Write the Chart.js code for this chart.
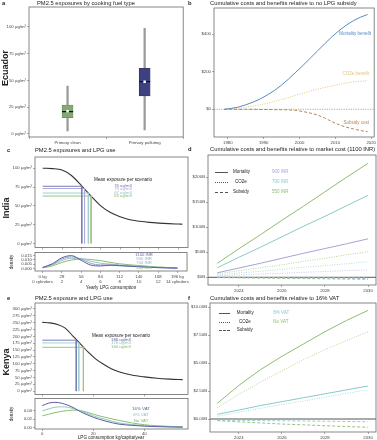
<!DOCTYPE html>
<html>
<head>
<meta charset="utf-8">
<script src="https://cdn.jsdelivr.net/npm/chart.js@4.4.1/dist/chart.umd.min.js"></script>
<style>
    html, body { margin: 0; padding: 0; background: #fff; }
    #fig { position: relative; width: 377px; height: 440px; overflow: hidden; font-family: "Liberation Sans", Arial, sans-serif; color: #222; }
    #fig canvas { position: absolute; }
    .t { position: absolute; white-space: nowrap; line-height: 1; }
    .key { position: absolute; height: 0; border-top-width: 1px; border-top-color: #555; }
</style>
</head>
<body>
<div id="fig"></div>
<script>
/* ── data ── */

// a: Ecuador, exposure by fuel type
const fuelTypes = ['Primary clean', 'Primary polluting'];
const boxWhisker = [[2.8, 44.7], [3.7, 98.5]];
const boxIQR = [[15.2, 27], [35.4, 61.3]];
const boxMedian = [20.8, 48.8];
const boxMean = [21.2, 48.8];

// b: cumulative costs/benefits vs no LPG subsidy
const yearsB = [1979, 1981, 1983, 1985, 1987, 1989, 1991, 1993, 1995, 1997, 1999, 2001, 2003, 2005, 2007, 2009, 2011, 2013, 2015, 2017, 2019];
const mortalityB = [0, 5, 12, 24, 38, 55, 76, 100, 129, 162, 198, 234, 272, 310, 348, 385, 418, 447, 471, 490, 504];
const co2eB = [0, 2, 6, 11, 17, 24, 32, 42, 52, 63, 75, 86, 97, 107, 116, 124, 132, 139, 145, 149, 152];
const subsidyB = [0, 0, 0, 0, 0, -1, -1, -2, -2, -3, -6, -12, -20, -30, -46, -65, -82, -95, -104, -113, -119];

// c: India exposure curve + LPG use density
const kgC = [0, 14, 28, 42, 56, 70, 84, 98, 112, 126, 140, 154, 168, 182, 196, 202];
const exposureC = [100, 99.5, 97.5, 90, 77, 63, 50, 41, 35.5, 31.5, 29.5, 28, 27, 26.3, 25.8, 25.6];
const scenariosC = ['1100 INR', '900 INR', '700 INR', '550 INR'];
const meanExpC = [76, 73, 67, 63];
const meanKgC = [56.5, 60.5, 66, 70];
const densKgC = [0, 14, 28, 42, 56, 70, 84, 98, 112, 126, 140, 154, 168, 182, 196];
const dens1100 = [0.0012, 0.0055, 0.0125, 0.0150, 0.0095, 0.0040, 0.0030, 0.0038, 0.0032, 0.0026, 0.0021, 0.0015, 0.0010, 0.0007, 0.0004];
const dens900 = [0.0012, 0.0048, 0.0110, 0.0135, 0.0110, 0.0060, 0.0042, 0.0042, 0.0036, 0.0029, 0.0023, 0.0017, 0.0011, 0.0008, 0.0005];
const dens700 = [0.0010, 0.0040, 0.0092, 0.0118, 0.0115, 0.0085, 0.0062, 0.0052, 0.0042, 0.0034, 0.0027, 0.0020, 0.0014, 0.0009, 0.0006];
const dens550 = [0.0008, 0.0030, 0.0070, 0.0098, 0.0110, 0.0105, 0.0092, 0.0072, 0.0055, 0.0044, 0.0035, 0.0026, 0.0018, 0.0012, 0.0008];
const kgTicksC = [0, 28, 56, 84, 112, 140, 168, 196];
const kgTickLabelsC = [['0 kg', '0 cylinders'], ['28', '2'], ['56', '4'], ['84', '6'], ['112', '8'], ['140', '10'], ['168', '12'], ['196 kg', '14 cylinders']];

// d: India cumulative costs/benefits vs market cost
const yearsD = [2023, 2024, 2025, 2026, 2027, 2028, 2029, 2030];
const scenariosD = ['900 INR', '700 INR', '550 INR'];
const mort900 = [9, 18.5, 28, 38, 48, 57.5, 67, 77];
const mort700 = [19, 40, 60, 81, 102, 122, 143, 164];
const mort550 = [28, 57, 85, 114, 142, 171, 200, 228];
const co2900 = [3, 4.5, 6.5, 8, 10, 11.5, 13.5, 15];
const co2700 = [5, 8.5, 12, 16, 20, 23.5, 27, 31];
const co2550 = [7, 13, 19, 25, 32, 38, 45, 51];
const subs900 = [0, -0.2, -0.3, -0.4, -0.6, -0.7, -0.8, -1];
const subs700 = [-0.3, -0.6, -0.9, -1.2, -1.5, -1.8, -2.1, -2.5];
const subs550 = [-0.5, -1, -1.5, -2, -2.5, -3, -3.5, -4];

// e: Kenya exposure curve + LPG use density
const kgE = [0, 3, 6, 9, 12, 15, 18, 21, 24, 27, 30, 35, 40, 45, 50, 55];
const exposureE = [251, 249, 243, 230, 201, 172, 142, 117, 98, 82, 71, 59, 52, 47, 44, 42];
const scenariosE = ['16% VAT', '8% VAT', 'No VAT'];
const meanExpE = [186, 176, 160];
const meanKgE = [13.3, 14.3, 16.1];
const densKgE = [0, 2.5, 5, 7.5, 10, 12.5, 15, 17.5, 20, 25, 30, 35, 40, 45, 50, 55];
const dens16 = [0.053, 0.059, 0.061, 0.059, 0.054, 0.047, 0.038, 0.031, 0.0245, 0.015, 0.008, 0.005, 0.003, 0.0018, 0.001, 0.0005];
const dens8 = [0.040, 0.045, 0.049, 0.050, 0.049, 0.045, 0.040, 0.034, 0.028, 0.019, 0.011, 0.007, 0.0045, 0.003, 0.0018, 0.001];
const densNo = [0.028, 0.032, 0.036, 0.039, 0.041, 0.042, 0.041, 0.037, 0.032, 0.024, 0.017, 0.011, 0.0065, 0.004, 0.0025, 0.0015];

// f: Kenya cumulative costs/benefits vs 16% VAT
const yearsF = [2023, 2024, 2025, 2026, 2027, 2028, 2029, 2030];
const scenariosF = ['8% VAT', 'No VAT'];
const mort8 = [0.42, 0.8, 1.2, 1.55, 1.9, 2.25, 2.6, 2.95];
const co28 = [0.25, 0.6, 0.95, 1.3, 1.6, 1.95, 2.3, 2.6];
const mortNo = [1.4, 3.0, 4.4, 5.6, 6.7, 7.8, 8.8, 9.7];
const co2No = [1.0, 2.2, 3.3, 4.3, 5.3, 6.2, 7.0, 7.8];
const subs8 = [-0.1, -0.12, -0.14, -0.16, -0.18, -0.2, -0.22, -0.24];
const subsNo = [-0.15, -0.25, -0.35, -0.45, -0.52, -0.6, -0.67, -0.74];

/* ── helpers ── */

const fig = document.getElementById('fig');
const FONT = '"Liberation Sans", Arial, sans-serif';
Chart.defaults.font.family = FONT;
Chart.defaults.color = '#444';

const COL = {
    purple: '#5c5ca0', lavender: '#a6a3d6', teal: '#8cc8ca', green: '#8dbd6e',
    greenDot: '#b9d49a', tealDot: '#b2dcdd', lavDot: '#c9c6e8',
    blue: '#5a8bbf', gold: '#e3c47c', brown: '#b3845a',
};
const DOT = [1, 1.4];
const DASH = [3, 2];

const pts = (xs, ys) => xs.map((x, i) => ({ x, y: ys[i] }));
const ug = v => v + ' µg/m³';

// grey frame round every plot area
const framePlugin = {
    id: 'frame',
    afterDatasetsDraw(chart) {
        const { ctx, chartArea: a } = chart;
        ctx.save();
        ctx.strokeStyle = '#6a6a6a';
        ctx.lineWidth = 0.8;
        ctx.strokeRect(a.left, a.top, a.right - a.left, a.bottom - a.top);
        ctx.restore();
    },
};

// horizontal reference line at y = 0
const zeroPlugin = {
    id: 'zero',
    beforeDatasetsDraw(chart, args, opts) {
        if (!opts || !opts.color) return;
        const { ctx, chartArea: a, scales } = chart;
        const y = scales.y.getPixelForValue(0);
        ctx.save();
        ctx.strokeStyle = opts.color;
        ctx.lineWidth = opts.width || 1;
        ctx.setLineDash(opts.dash || []);
        ctx.beginPath();
        ctx.moveTo(a.left, y);
        ctx.lineTo(a.right, y);
        ctx.stroke();
        ctx.restore();
    },
};

function axis(min, max, ticks, fmt, size, pad) {
    return {
        type: 'linear', min, max, bounds: 'data',
        afterBuildTicks: s => { s.ticks = ticks.map(v => ({ value: v })); },
        afterFit: s => { if (s.isHorizontal()) s.height = size; else s.width = size; },
        ticks: { callback: fmt, font: { size: 4.3 }, color: '#444', padding: pad === undefined ? 1 : pad, autoSkip: false, maxRotation: 0 },
        grid: { drawOnChartArea: false, tickLength: 2, color: '#777', lineWidth: 0.6 },
        border: { display: false },
    };
}

function line(data, color, width, dash) {
    return {
        type: 'line', data, borderColor: color, borderWidth: width || 1,
        borderDash: dash || [], pointRadius: 0, tension: 0, fill: false,
    };
}

function makeChart(box, pad, config) {
    const c = document.createElement('canvas');
    c.width = box[2]; c.height = box[3];
    c.style.left = box[0] + 'px'; c.style.top = box[1] + 'px';
    c.style.width = box[2] + 'px'; c.style.height = box[3] + 'px';
    fig.appendChild(c);
    config.options = Object.assign({
        responsive: false, animation: false, events: [], devicePixelRatio: 1,
        layout: { padding: { top: pad[0], right: pad[1], bottom: 0, left: 0 } },
    }, config.options);
    config.options.plugins = Object.assign({ legend: { display: false }, tooltip: { enabled: false } }, config.options.plugins);
    config.plugins = [framePlugin, zeroPlugin];
    return new Chart(c, config);
}

function txt(s, x, y, o) {
    o = o || {};
    const d = document.createElement('div');
    d.className = 't';
    d.textContent = s;
    d.style.left = x + 'px';
    d.style.top = y + 'px';
    d.style.fontSize = (o.size || 4.5) + 'px';
    if (o.bold) d.style.fontWeight = 'bold';
    if (o.color) d.style.color = o.color;
    const tx = o.align === 'center' ? '-50%' : o.align === 'right' ? '-100%' : '0';
    d.style.transform = `translate(${tx},-50%)` + (o.rot ? ' rotate(-90deg)' : '');
    fig.appendChild(d);
}

function key(x, y, w, style) {
    const d = document.createElement('div');
    d.className = 'key';
    d.style.left = x + 'px';
    d.style.top = y + 'px';
    d.style.width = w + 'px';
    d.style.borderTopStyle = style;
    fig.appendChild(d);
}

/* ── a: box plot ── */
makeChart([0, 0, 190, 147], [7, 3], {
    type: 'bar',
    data: {
        labels: fuelTypes,
        datasets: [
            { type: 'line', data: boxMean, showLine: false, pointStyle: 'rect', pointRadius: 1.8, backgroundColor: '#fff', borderColor: '#fff', borderWidth: 0, order: 1 },
            { type: 'line', data: boxMedian, showLine: false, pointStyle: 'line', pointRadius: 5.5, borderColor: '#111', borderWidth: 1.3, order: 2 },
            { data: boxIQR, grouped: false, barThickness: 11, backgroundColor: ['#86a872', '#3e4180'], borderColor: ['#5f7d50', '#2b2d5e'], borderWidth: 0.6, borderSkipped: false, order: 3 },
            { data: boxWhisker, grouped: false, barThickness: 1.6, backgroundColor: '#9a9a9a', order: 4 },
        ],
    },
    options: {
        scales: {
            x: {
                afterFit: s => { s.height = 10; },
                ticks: { font: { size: 4.3 }, color: '#444', padding: 1, maxRotation: 0 },
                grid: { drawOnChartArea: false, tickLength: 2, color: '#777', lineWidth: 0.6 },
                border: { display: false },
            },
            y: axis(-2.8, 118.4, [0, 25, 50, 75, 100], ug, 29),
        },
    },
});

/* ── b: cumulative, Ecuador ── */
makeChart([188, 0, 189, 147], [8, 1], {
    type: 'line',
    data: {
        datasets: [
            line(pts(yearsB, mortalityB), COL.blue, 1),
            line(pts(yearsB, co2eB), COL.gold, 1, DOT),
            line(pts(yearsB, subsidyB), COL.brown, 1, DASH),
        ],
    },
    options: {
        plugins: { zero: { color: '#8a8a8a', width: 0.7, dash: [1.2, 1.2] } },
        scales: {
            x: axis(1976.14, 2020.83, [1980, 1990, 2000, 2010, 2020], v => String(v), 10),
            y: axis(-147.3, 538.8, [0, 200, 400], v => '$' + v, 26),
        },
    },
});

/* ── c: exposure curve, India ── */
const meanColsC = ['#7c7ab8', '#aeaadb', '#9fd0d0', '#9ac57e'];
makeChart([0, 150, 190, 101], [7, 2], {
    type: 'line',
    data: {
        datasets: meanExpC.map((v, i) => line([{ x: 0, y: v }, { x: meanKgC[i], y: v }, { x: meanKgC[i], y: 0 }], meanColsC[i], 1))
            .concat([Object.assign(line(pts(kgC, exposureC), '#333', 1.1), { cubicInterpolationMode: 'monotone' })]),
    },
    options: {
        scales: {
            x: axis(-11.1, 210, kgTicksC, () => '', 3),
            y: axis(-5.3, 114.9, [0, 25, 50, 75, 100], ug, 35),
        },
    },
});

const densColsC = [COL.purple, '#9c99d2', '#8fc7c8', '#8cbd6e'];
makeChart([0, 249, 190, 36], [2, 2], {
    type: 'line',
    data: {
        datasets: [dens1100, dens900, dens700, dens550].map((d, i) =>
            Object.assign(line(pts(densKgC, d), densColsC[i], 1), { cubicInterpolationMode: 'monotone' })),
    },
    options: {
        scales: {
            x: axis(-11.1, 210, kgTicksC, (v, i) => kgTickLabelsC[i], 14),
            y: axis(-0.0029, 0.01854, [0, 0.005, 0.01, 0.015], v => v.toFixed(3), 35),
        },
    },
});

/* ── d: cumulative, India ── */
const colsD = [COL.lavender, COL.teal, COL.green];
const dotsD = [COL.lavDot, COL.tealDot, COL.greenDot];
makeChart([185, 150, 192, 143], [5, 1], {
    type: 'line',
    data: {
        datasets: [
            line(pts(yearsD, subs900), colsD[0], 0.9, DASH),
            line(pts(yearsD, subs700), colsD[1], 0.9, DASH),
            line(pts(yearsD, subs550), colsD[2], 0.9, DASH),
            line(pts(yearsD, co2900), dotsD[0], 1, DOT),
            line(pts(yearsD, co2700), dotsD[1], 1, DOT),
            line(pts(yearsD, co2550), dotsD[2], 1, DOT),
            line(pts(yearsD, mort900), colsD[0], 1),
            line(pts(yearsD, mort700), colsD[1], 1),
            line(pts(yearsD, mort550), colsD[2], 1),
        ],
    },
    options: {
        plugins: { zero: { color: '#555', width: 1 } },
        scales: {
            x: axis(2022.57, 2030.37, [2024, 2026, 2028, 2030], v => String(v), 8),
            y: axis(-15.4, 244.6, [0, 50, 100, 150, 200], v => '$' + v + 'B', 23),
        },
    },
});

/* ── e: exposure curve, Kenya ── */
const meanColsE = ['#7c7ab8', '#9fd0d0', '#9ac57e'];
makeChart([0, 297, 190, 101], [6, 2], {
    type: 'line',
    data: {
        datasets: meanExpE.map((v, i) => line([{ x: 0, y: v }, { x: meanKgE[i], y: v }, { x: meanKgE[i], y: 0 }], meanColsE[i], 1))
            .concat([Object.assign(line(pts(kgE, exposureE), '#333', 1.1), { cubicInterpolationMode: 'monotone' })]),
    },
    options: {
        scales: {
            x: axis(-2.86, 57.1, [0, 20, 40], () => '', 3),
            y: axis(-12, 321.7, [0, 25, 50, 75, 100, 125, 150, 175, 200, 225, 250, 275, 300], ug, 35),
        },
    },
});

const densColsE = [COL.purple, '#8fc7c8', '#8cbd6e'];
makeChart([0, 395, 190, 44], [2, 2], {
    type: 'line',
    data: {
        datasets: [dens16, dens8, densNo].map((d, i) =>
            Object.assign(line(pts(densKgE, d), densColsE[i], 1), { cubicInterpolationMode: 'monotone' })),
    },
    options: {
        scales: {
            x: axis(-2.86, 57.1, [0, 20, 40], v => String(v), 10, 0),
            y: axis(-0.0039, 0.0701, [0, 0.02, 0.04], v => v.toFixed(2), 35),
        },
    },
});

/* ── f: cumulative, Kenya ── */
makeChart([185, 297, 192, 143], [6, 1], {
    type: 'line',
    data: {
        datasets: [
            line(pts(yearsF, subs8), COL.teal, 0.9, DASH),
            line(pts(yearsF, subsNo), COL.green, 0.9, DASH),
            line(pts(yearsF, co28), COL.tealDot, 1, DOT),
            line(pts(yearsF, co2No), COL.greenDot, 1, DOT),
            line(pts(yearsF, mort8), COL.teal, 1),
            line(pts(yearsF, mortNo), COL.green, 1),
        ],
    },
    options: {
        plugins: { zero: { color: '#555', width: 1 } },
        scales: {
            x: axis(2022.66, 2030.37, [2024, 2026, 2028, 2030], v => String(v), 8),
            y: axis(-1.16, 10.36, [0, 2.5, 5, 7.5, 10], v => '$' + v.toFixed(2) + 'B', 25),
        },
    },
});

/* ── texts ── */
const T = 5.8;
txt('a', 2, 3.5, { size: T, bold: true });
txt('PM2.5 exposures by cooking fuel type', 37, 3.5, { size: T });
txt('b', 188, 3.5, { size: T, bold: true });
txt('Cumulative costs and benefits relative to no LPG subsidy', 210, 3.5, { size: T });
txt('c', 7, 151, { size: T, bold: true });
txt('PM2.5 exposures and LPG use', 35, 151, { size: T });
txt('d', 188, 150, { size: T, bold: true });
txt('Cumulative costs and benefits relative to market cost (1100 INR)', 210, 150, { size: T });
txt('e', 7, 299, { size: T, bold: true });
txt('PM2.5 exposure and LPG use', 35, 299, { size: T });
txt('f', 188, 299, { size: T, bold: true });
txt('Cumulative costs and benefits relative to 16% VAT', 210, 299, { size: T });

txt('Ecuador', 5, 68, { size: 9, bold: true, align: 'center', rot: true });
txt('India', 6, 208, { size: 9, bold: true, align: 'center', rot: true });
txt('Kenya', 6, 362, { size: 9, bold: true, align: 'center', rot: true });
txt('density', 12, 262, { size: 4.5, align: 'center', rot: true });
txt('density', 12, 414, { size: 4.5, align: 'center', rot: true });
txt('Yearly LPG consumption', 111, 288, { size: 4.6, align: 'center' });
txt('LPG consumption kg/capita/year', 111, 437.8, { size: 4.6, align: 'center' });

// b labels
txt('Mortality benefit', 371, 34, { color: COL.blue, align: 'right' });
txt('CO2e benefit', 369, 74, { color: COL.gold, align: 'right' });
txt('Subsidy cost', 369, 123, { color: COL.brown, align: 'right' });

// c labels
const labelColsC = ['#6a6aaa', '#a6a3d6', '#86c4c6', '#86b866'];
txt('Mean exposure per scenario', 123, 179.5, { size: 4.6, align: 'center' });
meanExpC.forEach((v, i) => txt(v + ' ug/m3', 123, 185.7 + i * 3.55, { size: 4.2, color: labelColsC[i], align: 'center' }));
scenariosC.forEach((s, i) => txt(s, 144, 255 + i * 4.2, { size: 4.2, color: labelColsC[i], align: 'center' }));

// d legend
['solid', 'dotted', 'dashed'].forEach((st, i) => key(215, 172.3 + i * 9.9, 13, st));
txt('Mortality', 233, 172.3);
txt('CO2e', 235, 182.2);
txt('Subsidy', 233, 192);
scenariosD.forEach((s, i) => txt(s, 272, 172.3 + i * 9.9, { color: colsD[i] }));

// e labels
const labelColsE = ['#5a5a9a', '#86c4c6', '#86b866'];
txt('Mean exposure per scenario', 121, 336, { size: 4.6, align: 'center' });
meanExpE.forEach((v, i) => txt(v + ' ug/m3', 121, 339.6 + i * 3.8, { size: 4.2, color: labelColsE[i], align: 'center' }));
scenariosE.forEach((s, i) => txt(s, 141, 409 + i * 6, { size: 4.4, color: labelColsE[i], align: 'center' }));

// f legend
['solid', 'dotted', 'dashed'].forEach((st, i) => key(219, 313.3 + i * 8.5, 11, st));
txt('Mortality', 236.7, 313.3);
txt('CO2e', 239, 321.8);
txt('Subsidy', 236.7, 330.3);
scenariosF.forEach((s, i) => txt(s, 273.3, 313.3 + i * 8.5, { color: [COL.teal, COL.green][i] }));
</script>
</body>
</html>
